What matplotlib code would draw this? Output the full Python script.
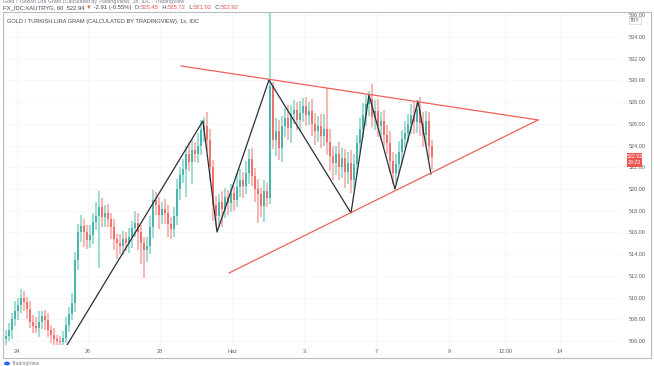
import numpy as np
import pandas as pd
import matplotlib
matplotlib.use('Agg')
import matplotlib.pyplot as plt
from matplotlib.patches import Rectangle, Circle

W, H = 654, 366

# 2-hour bars, XAU/TRY gram
closes = [
    506.5, 507.0, 508.0, 508.8, 509.3, 510.0, 509.6, 509.0, 507.8, 507.4,
    507.2, 507.8, 508.3, 507.9, 507.0, 506.6, 506.2, 506.0, 505.9, 506.3,
    507.5, 508.5, 509.5, 513.5, 516.0, 516.6, 516.0, 515.3, 515.8, 517.0,
    517.5, 518.3, 517.4, 517.8, 517.2, 516.5, 515.4, 515.0, 514.8, 515.4,
    515.0, 515.6, 516.4, 516.9, 516.0, 515.0, 514.4, 514.8, 516.5, 519.0,
    518.5, 517.6, 518.2, 517.8, 516.8, 516.3, 517.5, 520.0, 521.3, 521.8,
    523.2, 522.5, 523.6, 523.2, 524.0, 525.4, 525.8, 524.5, 522.0, 518.5,
    517.5, 518.8, 518.2, 519.3, 518.7, 519.6, 519.0, 520.2, 520.8, 520.3,
    521.5, 522.8, 521.2, 520.0, 519.5, 518.4, 519.8, 519.2, 529.5, 524.5,
    525.3, 523.8, 525.8, 526.5, 525.6, 526.9, 527.3, 526.4, 527.0, 527.6,
    526.8, 527.2, 526.0, 525.3, 525.8, 524.9, 525.5, 524.3, 523.0, 522.4,
    523.2, 522.0, 522.9, 521.6, 522.4, 520.8, 522.3, 524.2, 525.5, 526.8,
    527.8, 528.3, 526.6, 527.2, 525.8, 526.3, 525.0, 524.2, 522.6, 521.5,
    522.3, 523.4, 524.6, 525.2, 526.0, 526.8, 526.2, 527.4, 526.1, 525.0,
    526.3, 524.0, 522.92,
]
first_open = 506.2
upper_wick = [
    0.5, 0.7, 0.6, 0.9, 0.7, 0.8, 0.6, 0.5, 0.7, 0.6,
    0.8, 1.0, 0.5, 0.6, 0.7, 0.5, 0.6, 0.4, 0.5, 0.6,
    0.7, 0.6, 0.9, 0.7, 0.8, 1.0, 0.6, 0.7, 0.9, 0.8,
    1.3, 1.5, 0.9, 0.7, 0.8, 0.6, 0.7, 0.5, 0.9, 0.7,
    0.6, 0.8, 0.7, 1.1, 0.9, 0.7, 0.6, 0.8, 1.0, 0.9,
    0.7, 0.8, 0.6, 0.9, 0.7, 0.6, 0.8, 0.9, 0.7, 1.0,
    0.8, 1.1, 0.9, 0.7, 1.2, 1.0, 0.8, 1.3, 1.0, 0.7,
    0.9, 0.7, 1.0, 0.8, 0.6, 0.9, 0.7, 1.3, 1.0, 0.8,
    1.1, 0.9, 1.0, 0.7, 0.9, 0.6, 1.0, 0.8, 16.0, 0.4,
    1.2, 1.1, 0.9, 1.0, 1.2, 0.8, 0.9, 0.7, 1.1, 0.8,
    0.9, 0.8, 1.1, 1.0, 0.9, 1.1, 1.4, 3.8, 1.2, 1.0,
    0.8, 1.1, 0.9, 0.8, 1.0, 1.2, 0.9, 0.8, 1.0, 1.1,
    0.9, 0.7, 1.4, 1.0, 1.1, 0.8, 1.0, 0.9, 1.1, 0.8,
    0.9, 1.0, 0.8, 1.1, 0.9, 1.0, 1.2, 0.8, 1.1, 1.0,
    0.9, 0.8, 0.5,
]
lower_wick = [
    0.7, 0.5, 0.8, 0.6, 0.9, 0.7, 0.8, 1.0, 0.6, 0.7,
    0.5, 0.8, 0.7, 0.9, 0.6, 0.8, 0.7, 0.5, 0.3, 0.5,
    0.5, 0.7, 0.6, 0.8, 1.0, 0.9, 1.3, 0.8, 0.7, 0.9,
    0.8, 4.8, 0.9, 0.9, 0.7, 1.1, 1.0, 1.4, 0.8, 0.9,
    0.7, 0.9, 1.0, 0.8, 1.6, 1.9, 2.6, 1.1, 0.8, 1.0,
    0.9, 1.3, 0.8, 1.0, 1.2, 0.9, 0.7, 0.8, 1.0, 0.7,
    2.5, 0.8, 2.0, 0.7, 0.8, 0.9, 1.1, 1.0, 1.3, 1.4,
    1.0, 1.0, 1.7, 0.9, 1.1, 0.8, 1.0, 0.7, 0.9, 1.1,
    0.8, 1.0, 0.9, 1.2, 2.6, 1.0, 1.4, 0.9, 0.6, 0.8,
    1.5, 1.1, 1.3, 1.0, 1.1, 1.4, 0.9, 1.0, 1.1, 0.8,
    1.0, 0.9, 1.1, 1.2, 1.0, 1.1, 0.9, 1.2, 1.3, 1.6,
    1.1, 1.2, 1.0, 1.5, 1.1, 1.2, 0.8, 1.0, 0.9, 0.8,
    1.0, 1.1, 0.9, 1.2, 1.0, 1.3, 1.1, 1.0, 1.1, 1.0,
    1.0, 0.9, 1.1, 0.8, 1.0, 0.9, 1.1, 1.0, 1.2, 1.1,
    1.0, 1.2, 1.2,
]
bar_hours = 2

# drawings (hour, price)
zigzag_t = [40.7, 131.3, 140.7, 175.3, 230.0, 242.0, 259.3, 274.7, 283.3]
zigzag_p = [505.64, 526.27, 516.04, 530.04, 517.79, 528.66, 520.0, 528.1, 521.38]
upper_t = [116.7, 354.7]
upper_p = [531.33, 526.36]
lower_t = [148.7, 354.7]
lower_p = [512.27, 526.36]

time_ticks = [7.3, 54.7, 102.7, 150.7, 198.7, 246.7, 295.3, 332.7, 369.3]
time_labels = ['24', '26', '28', 'Haz', '3', '7', '9', '12:00', '14']
price_ticks = list(range(506, 538, 2))
last_price = 522.92
countdown = '29:23'

FONT = ['Liberation Sans', 'DejaVu Sans']
plt.rcParams['font.family'] = FONT

df = pd.DataFrame({'close': closes, 'uw': upper_wick, 'lw': lower_wick})
df['open'] = [first_open] + closes[:-1]
df['t'] = np.arange(len(df)) * bar_hours
top = df[['open', 'close']].max(axis=1)
bot = df[['open', 'close']].min(axis=1)
df['high'] = top + df.uw
df['low'] = bot - df.lw
up = df.close >= df.open


def fx(x):
    return x / W


def fy(y):
    return 1 - y / H


fig = plt.figure(figsize=(W / 100, H / 100), dpi=100)
fig.patch.set_facecolor('white')
ax = fig.add_axes([fx(3), fy(345), 619 / W, 333 / H])
ax.set_xlim(-2, 410.67)
ax.set_ylim(505.64, 536.30)
for s in ax.spines.values():
    s.set_visible(False)

ax.vlines(df.t[up], df.low[up], df.high[up], color='#a3dcd3', lw=1.5, zorder=2)
ax.vlines(df.t[~up], df.low[~up], df.high[~up], color='#f6b9b7', lw=1.5, zorder=2)
heights = np.maximum(top - bot, 0.12)
ax.bar(df.t, heights, bottom=bot, width=1.4,
       color=np.where(up, '#26a69a', '#ef5350'), alpha=0.7, zorder=3)

ax.plot(zigzag_t, zigzag_p, color='#2a2e39', lw=0.9, zorder=4)
ax.plot(upper_t, upper_p, color='#f0605d', lw=0.9, zorder=4)
ax.plot(lower_t, lower_p, color='#f0605d', lw=0.9, zorder=4)

ax.yaxis.tick_right()
ax.set_yticks(price_ticks, [f'{p:.2f}' for p in price_ticks])
ax.tick_params(axis='y', length=0, pad=5, labelsize=4, labelcolor='#5d606b')
ax.set_xticks(time_ticks, time_labels)
ax.tick_params(axis='x', length=0, pad=3.2, labelsize=4, labelcolor='#5d606b')
ax.grid(color='#f3f4f7', lw=0.5)
ax.set_axisbelow(True)

# frame
fig.add_artist(Rectangle((fx(3), fy(358)), 648 / W, 346 / H, fill=False,
                         ec='#b8bbc2', lw=0.8, transform=fig.transFigure))

# last price label
fig.add_artist(Rectangle((fx(627), fy(167)), 15 / W, 14 / H, fc='#ef5350',
                         ec='none', transform=fig.transFigure, zorder=5))
fig.text(fx(634.5), fy(157), f'{last_price:.2f}', color='white', fontsize=3.8,
         ha='center', va='center', zorder=6)
fig.text(fx(634.5), fy(163), countdown, color='white', fontsize=3.8,
         ha='center', va='center', zorder=6)
fig.text(fx(635), fy(20.5), 'TRY', color='#5d606b', fontsize=3.6, ha='center',
         va='center', zorder=6,
         bbox=dict(fc='white', ec='#c3c6cc', lw=0.4, boxstyle='square,pad=0.25'))

# header (first line is cut by the screenshot edge)
fig.text(fx(3), fy(1.5), 'Gold / Turkish Lira Gram (Calculated by TradingView), 1h, IDC - TradingView',
         color='#787b86', fontsize=3.8, va='center')
header = [('FX_IDC:XAUTRYG, 60  522.94 ', '#434651'), ('\u25bc', '#ef5350'),
          (' -2.91 (-0.55%)  O:', '#434651'), ('525.45', '#ef5350'),
          ('  H:', '#434651'), ('525.72', '#ef5350'), ('  L:', '#434651'),
          ('521.92', '#ef5350'), ('  C:', '#434651'), ('522.92', '#ef5350')]
prev = fig.text(fx(3), fy(7.5), header[0][0], color=header[0][1], fontsize=4.2, va='center')
for txt, col in header[1:]:
    prev = ax.annotate(txt, xy=(1, 0.5), xycoords=prev, va='center', ha='left',
                       color=col, fontsize=4.2, annotation_clip=False)

fig.text(fx(7), fy(21), 'GOLD / TURKISH LIRA GRAM (CALCULATED BY TRADINGVIEW), 1s, IDC',
         color='#434651', fontsize=4.1, va='center')

# footer logo
fig.add_artist(Circle((fx(7), fy(363.5)), 2.2 / W, color='#2962ff',
                      transform=fig.transFigure))
fig.text(fx(12), fy(364), 'TradingView', color='#787b86', fontsize=3.6, va='center')

plt.savefig('out.png', dpi=100)
